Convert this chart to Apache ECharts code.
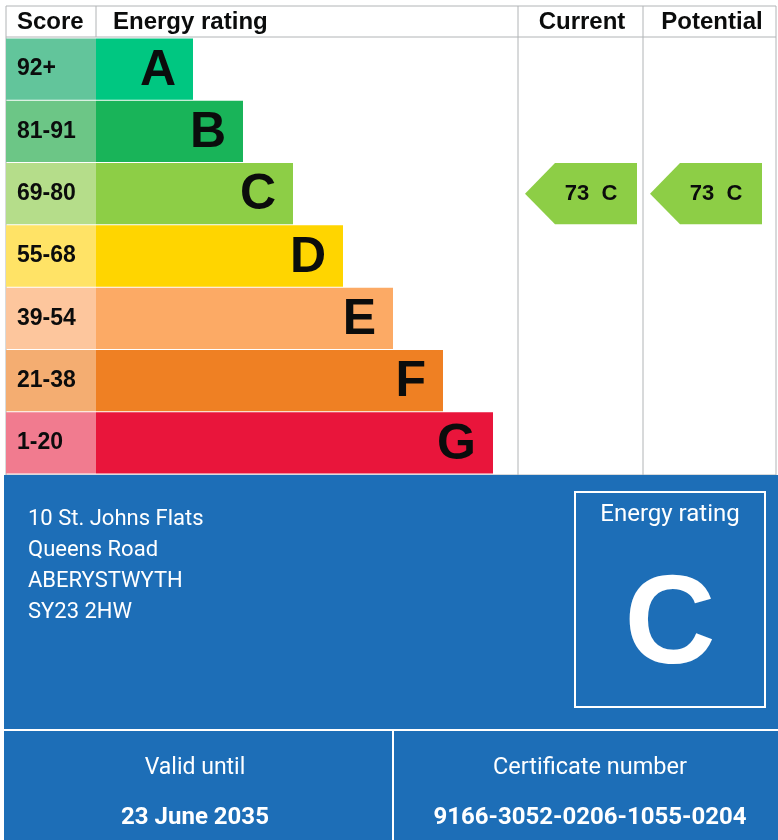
<!DOCTYPE html>
<html>
<head>
<meta charset="utf-8">
<script src="https://cdn.jsdelivr.net/npm/echarts@6/dist/echarts.min.js"></script>
<style>
html,body{margin:0;padding:0;background:#fff;}
#chart{width:778px;height:840px;}
</style>
</head>
<body>
<div id="chart"></div>
<script>
// ---- data ----
const bandLetters = ['A', 'B', 'C', 'D', 'E', 'F', 'G'];
const scoreRanges = ['92+', '81-91', '69-80', '55-68', '39-54', '21-38', '1-20'];
const bandMinScores = [92, 81, 69, 55, 39, 21, 1];
const scoreColumnWidth = [18, 18, 18, 18, 18, 18, 18];
const bandLengths = [19.4, 29.4, 39.4, 49.4, 59.4, 69.4, 79.4];
const bandColors = ['#00c781', '#19b459', '#8dce46', '#ffd500', '#fcaa65', '#ef8023', '#e9153b'];
const scoreColors = ['#62c59b', '#6cc686', '#b5dd8a', '#ffe366', '#fdc69d', '#f4ad71', '#f17b8f'];
const currentScore = 73;
const potentialScore = 73;
const addressLines = ['10 St. Johns Flats', 'Queens Road', 'ABERYSTWYTH', 'SY23 2HW'];
const validUntil = '23 June 2035';
const certificateNumber = '9166-3052-0206-1055-0204';

function bandOf(score) {
  for (let i = 0; i < bandMinScores.length; i++) if (score >= bandMinScores[i]) return i;
  return bandMinScores.length - 1;
}

const chart = echarts.init(document.getElementById('chart'), null, {renderer: 'canvas'});
const TXT = '#0b0c0c';
const GREY = '#b1b4b6';
const BLUE = '#1d6eb7';
const HFONT = '"Liberation Sans", Arial, sans-serif';
const BFONT = 'Roboto, "Noto Sans", sans-serif';

// column layout
const columns = [{left: 518, right: 643}, {left: 643, right: 776}];
const ratings = [currentScore, potentialScore];

const graphic = [
  // header
  {type: 'rect', shape: {x: 6, y: 6, width: 770, height: 469}, style: {fill: 'none', stroke: GREY, lineWidth: 1}, z: 1},
  {type: 'line', shape: {x1: 6, y1: 37, x2: 776, y2: 37}, style: {stroke: GREY, lineWidth: 1}},
  {type: 'line', shape: {x1: 96, y1: 6, x2: 96, y2: 37}, style: {stroke: GREY, lineWidth: 1}},
  {type: 'line', shape: {x1: 518, y1: 6, x2: 518, y2: 475}, style: {stroke: GREY, lineWidth: 1}},
  {type: 'line', shape: {x1: 643, y1: 6, x2: 643, y2: 475}, style: {stroke: GREY, lineWidth: 1}},
  {type: 'text', x: 17, y: 22, style: {text: 'Score', font: 'bold 24px ' + HFONT, fill: TXT, textVerticalAlign: 'middle'}},
  {type: 'text', x: 113, y: 22, style: {text: 'Energy rating', font: 'bold 24px ' + HFONT, fill: TXT, textVerticalAlign: 'middle'}},
  {type: 'text', x: 582, y: 22, style: {text: 'Current', font: 'bold 24px ' + HFONT, fill: TXT, textAlign: 'center', textVerticalAlign: 'middle'}},
  {type: 'text', x: 712, y: 22, style: {text: 'Potential', font: 'bold 24px ' + HFONT, fill: TXT, textAlign: 'center', textVerticalAlign: 'middle'}},
  // blue panel
  {type: 'rect', shape: {x: 4, y: 475, width: 774, height: 365}, style: {fill: BLUE}, z: 2},
  {type: 'rect', shape: {x: 4, y: 729, width: 774, height: 2}, style: {fill: '#fff'}, z: 3},
  {type: 'rect', shape: {x: 392, y: 731, width: 2, height: 109}, style: {fill: '#fff'}, z: 3},
  {type: 'rect', shape: {x: 575, y: 492, width: 190, height: 215}, style: {fill: 'none', stroke: '#fff', lineWidth: 2}, z: 3},
  {type: 'text', x: 670, y: 515, style: {text: 'Energy rating', font: '24px ' + BFONT, fill: '#fff', textAlign: 'center', textVerticalAlign: 'middle'}, z: 3},
  {type: 'text', x: 670, y: 628, style: {text: bandLetters[bandOf(currentScore)], font: 'bold 126px ' + HFONT, fill: '#fff', textAlign: 'center', textVerticalAlign: 'middle'}, z: 3},
  {type: 'text', x: 195, y: 768, style: {text: 'Valid until', font: '23px ' + BFONT, fill: '#fff', textAlign: 'center', textVerticalAlign: 'middle'}, z: 3},
  {type: 'text', x: 195, y: 818, style: {text: validUntil, font: 'bold 24px ' + BFONT, fill: '#fff', textAlign: 'center', textVerticalAlign: 'middle'}, z: 3},
  {type: 'text', x: 590, y: 768, style: {text: 'Certificate number', font: '23.5px ' + BFONT, fill: '#fff', textAlign: 'center', textVerticalAlign: 'middle'}, z: 3},
  {type: 'text', x: 590, y: 818, style: {text: certificateNumber, font: 'bold 24px ' + BFONT, fill: '#fff', textAlign: 'center', textVerticalAlign: 'middle'}, z: 3}
];
addressLines.forEach((t, i) => {
  graphic.push({type: 'text', x: 28, y: 519 + i * 31.3, style: {text: t, font: '22px ' + BFONT, fill: '#fff', textVerticalAlign: 'middle'}, z: 3});
});

const option = {
  animation: false,
  backgroundColor: '#fff',
  grid: {left: 6, top: 38, width: 770, height: 436, containLabel: false},
  xAxis: {type: 'value', min: 0, max: 154, show: false},
  yAxis: {type: 'category', data: bandLetters, inverse: true, show: false},
  graphic: graphic,
  series: [
    {
      name: 'Score', type: 'bar', stack: 'band', barCategoryGap: '1.6%',
      data: scoreColumnWidth.map((v, i) => ({value: v, itemStyle: {color: scoreColors[i]}})),
      label: {show: true, position: 'insideLeft', distance: 11, formatter: p => scoreRanges[p.dataIndex],
        fontFamily: HFONT, fontWeight: 'bold', fontSize: 23, color: TXT}
    },
    {
      name: 'Band', type: 'bar', stack: 'band', barCategoryGap: '1.6%',
      data: bandLengths.map((v, i) => ({value: v, itemStyle: {color: bandColors[i]}})),
      label: {show: true, position: 'insideRight', distance: 17, offset: [0, 2], formatter: p => bandLetters[p.dataIndex],
        fontFamily: HFONT, fontWeight: 'bold', fontSize: 50, color: TXT}
    },
    {
      name: 'Ratings', type: 'custom',
      data: ratings.map((s, i) => [i, bandOf(s), s]),
      encode: {x: 0, y: 1},
      renderItem: function (params, api) {
        const col = columns[api.value(0)];
        const bi = api.value(1);
        const score = api.value(2);
        const c = api.coord([0, bi]);
        const h = api.size([0, 1])[1] * 0.984;
        const y0 = c[1] - h / 2, y1 = c[1] + h / 2;
        const x0 = col.left + 7, x1 = x0 + 112, xs = x0 + 30;
        return {
          type: 'group',
          children: [
            {type: 'polygon', shape: {points: [[x0, c[1]], [xs, y0], [x1, y0], [x1, y1], [xs, y1]]},
              style: {fill: bandColors[bi]}},
            {type: 'text', x: x0 + 66, y: c[1], style: {text: score + '  ' + bandLetters[bi],
              font: 'bold 22px ' + HFONT, fill: TXT, textAlign: 'center', textVerticalAlign: 'middle'}}
          ]
        };
      }
    }
  ]
};
chart.setOption(option);
</script>
</body>
</html>
